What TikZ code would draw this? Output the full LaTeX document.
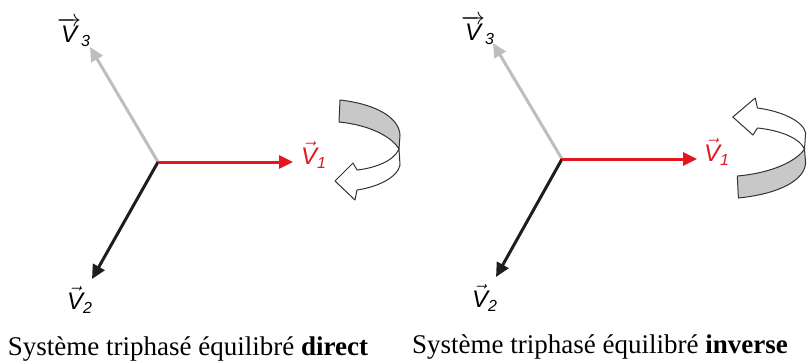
\documentclass[tikz,border=0pt]{standalone}
\usepackage{amsmath}
\usepackage{fontspec}
\setmainfont{Liberation Serif}
\setsansfont{Liberation Sans}
\usetikzlibrary{arrows.meta, positioning}

\definecolor{phasered}{RGB}{228,22,32}
\definecolor{phasegray}{RGB}{190,190,190}
\definecolor{phaseblack}{RGB}{30,30,30}
\definecolor{ribbongray}{RGB}{200,200,200}

\newcommand{\vlab}[1]{$\vec{\text{\sffamily\itshape V}}_{\text{\sffamily\itshape #1}}$}
\newcommand{\vlabwide}[1]{$\overrightarrow{\text{\sffamily\itshape V}}_{\text{\sffamily\itshape #1}}$}

\begin{document}
\begin{tikzpicture}[
    x=0.5pt, y=-0.5pt,
    phasor/.style={line width=1.5pt, -{Triangle[length=7pt,width=6.5pt]}},
    vlabel/.style={font=\fontsize{12}{14}\selectfont, inner sep=0pt},
    caption/.style={font=\fontsize{13.5}{16}\selectfont, anchor=base},
    ribbon/.style={draw=black!80, line width=0.5pt, line join=round},
    rotarrow/.pic={
        \path[ribbon, fill=white] (29,0) .. controls (24,12) and (5,19) .. (-13,21)
            -- (-17,14) -- (-35,32) -- (-15,51) -- (-13,41)
            .. controls (8,38) and (28,28) .. (30,16) -- cycle;
        \path[ribbon, fill=ribbongray] (-30,-49) .. controls (5,-45) and (29,-32) .. (30,-14)
            -- (29,0) .. controls (22,-12) and (0,-24) .. (-31,-27) -- cycle;
    }
]
\clip (0,0) rectangle (807,360);

% Left: direct system
\coordinate (o1) at (158,162);
\coordinate (v1a) at (293,162);
\coordinate (v2a) at (92,279);
\coordinate (v3a) at (90,47);

\node (l1a) [vlabel, text=phasered] at (314,155) {\vlab{1}};
\node (l2a) [vlabel] at (80,300) {\vlab{2}};
\node (l3a) [vlabel] at (74,32) {\vlabwide{3}};

\draw [phasor, phasegray] (o1) -- (v3a);
\draw [phasor, phaseblack] (o1) -- (v2a);
\draw [phasor, phasered] (o1) -- (v1a);

\pic (rotdirect) at (370,149) {rotarrow};

\node (capdirect) [caption] at (188,355) {Système triphasé équilibré \textbf{direct}};

% Right: inverse system
\coordinate (o2) at (562,159);
\coordinate (v1b) at (697,159);
\coordinate (v2b) at (496,277);
\coordinate (v3b) at (493,43);

\node (l1b) [vlabel, text=phasered] at (717,152) {\vlab{1}};
\node (l2b) [vlabel] at (485,298) {\vlab{2}};
\node (l3b) [vlabel] at (478,30) {\vlabwide{3}};

\draw [phasor, phasegray] (o2) -- (v3b);
\draw [phasor, phaseblack] (o2) -- (v2b);
\draw [phasor, phasered] (o2) -- (v1b);

\pic (rotinverse) [xscale=1.12, yscale=-1] at (772,149) {rotarrow};

\node (capinverse) [caption] at (600,353) {Système triphasé équilibré \textbf{inverse}};

\end{tikzpicture}
\end{document}
